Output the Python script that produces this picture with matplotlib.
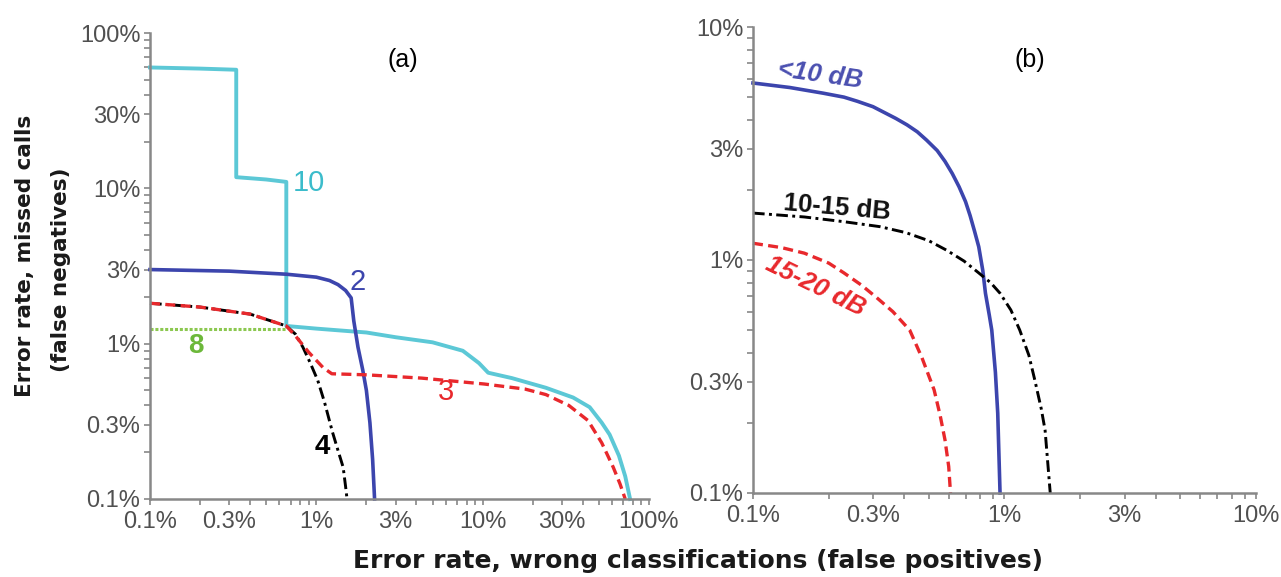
import matplotlib.pyplot as plt
from matplotlib.ticker import FixedLocator, FixedFormatter, LogLocator, NullFormatter

plt.rcParams['font.family'] = ['Liberation Sans', 'DejaVu Sans']

# values in percent, read off the reference
# panel (a)
c10_x = [0.1, 0.2, 0.33, 0.33, 0.5, 0.66, 0.66, 1.0, 2.0, 3.0, 5.0, 7.6, 9.5, 10.8, 15, 24, 35, 44, 52, 58, 66, 72, 77]
c10_y = [60, 59, 58, 11.8, 11.4, 11.0, 1.3, 1.25, 1.18, 1.1, 1.02, 0.9, 0.75, 0.65, 0.6, 0.52, 0.45, 0.39, 0.31, 0.26, 0.19, 0.14, 0.1]

c2_x = [0.1, 0.3, 0.66, 1.0, 1.2, 1.35, 1.5, 1.62, 1.68, 1.78, 1.9, 2.0, 2.1, 2.18, 2.24]
c2_y = [3.0, 2.93, 2.8, 2.68, 2.55, 2.4, 2.2, 1.97, 1.4, 0.95, 0.68, 0.5, 0.31, 0.18, 0.1]

c3_x = [0.1, 0.2, 0.4, 0.66, 0.75, 0.9, 1.1, 1.24, 2.0, 4.3, 10.2, 18, 24, 33, 43, 52, 61, 67, 72]
c3_y = [1.82, 1.72, 1.55, 1.3, 1.12, 0.88, 0.7, 0.64, 0.63, 0.6, 0.55, 0.51, 0.47, 0.4, 0.32, 0.23, 0.16, 0.125, 0.1]

c4_x = [0.1, 0.2, 0.4, 0.66, 0.75, 0.83, 0.92, 1.02, 1.12, 1.25, 1.36, 1.45, 1.5, 1.53]
c4_y = [1.82, 1.72, 1.55, 1.3, 1.15, 0.95, 0.75, 0.58, 0.42, 0.27, 0.2, 0.16, 0.12, 0.1]

c8_x = [0.1, 0.66]
c8_y = [1.25, 1.25]

# panel (b)
lo_x = [0.1, 0.14, 0.19, 0.23, 0.26, 0.3, 0.335, 0.37, 0.41, 0.45, 0.49, 0.54, 0.58, 0.62, 0.66, 0.7, 0.73, 0.76, 0.79, 0.82, 0.84, 0.87, 0.89, 0.92, 0.94, 0.96]
lo_y = [5.75, 5.5, 5.2, 5.0, 4.8, 4.55, 4.28, 4.05, 3.8, 3.55, 3.27, 2.95, 2.65, 2.35, 2.06, 1.78, 1.55, 1.33, 1.14, 0.9, 0.72, 0.58, 0.5, 0.33, 0.22, 0.1]

mid_x = [0.1, 0.16, 0.23, 0.32, 0.406, 0.5, 0.59, 0.69, 0.79, 0.88, 0.96, 1.06, 1.15, 1.25, 1.32, 1.4, 1.45, 1.52]
mid_y = [1.59, 1.53, 1.46, 1.39, 1.31, 1.21, 1.1, 0.99, 0.88, 0.8, 0.72, 0.61, 0.5, 0.39, 0.305, 0.23, 0.186, 0.1]

hi_x = [0.1, 0.13, 0.16, 0.2, 0.23, 0.27, 0.31, 0.36, 0.42, 0.47, 0.525, 0.555, 0.58, 0.6, 0.61]
hi_y = [1.18, 1.13, 1.07, 0.97, 0.88, 0.78, 0.69, 0.6, 0.5, 0.38, 0.277, 0.215, 0.169, 0.13, 0.1]

a_ticks = [0.1, 0.3, 1, 3, 10, 30, 100]
b_ticks = [0.1, 0.3, 1, 3, 10]

CYAN = '#5cc8d6'
BLUE = '#3c45ad'
RED = '#e8282c'
GREEN = '#8cc850'
AXC = '#888888'
TXT = '#505050'


def style(ax, ticks):
    ax.set_xscale('log')
    ax.set_yscale('log')
    ax.set_xlim(ticks[0], ticks[-1])
    ax.set_ylim(ticks[0], ticks[-1])
    labels = [f"{t:g}%" for t in ticks]
    for axis in (ax.xaxis, ax.yaxis):
        axis.set_major_locator(FixedLocator(ticks))
        axis.set_major_formatter(FixedFormatter(labels))
        axis.set_minor_locator(LogLocator(base=10, subs=range(2, 10)))
        axis.set_minor_formatter(NullFormatter())
    for s in ['top', 'right']:
        ax.spines[s].set_visible(False)
    for s in ['left', 'bottom']:
        ax.spines[s].set_color(AXC)
        ax.spines[s].set_linewidth(1.8)
    ax.tick_params(which='both', direction='out', length=4, width=1.2,
                   color=AXC, labelsize=17, labelcolor=TXT)
    ax.tick_params(axis='x', pad=5)
    ax.tick_params(axis='y', pad=3)


fig = plt.figure(figsize=(12.81, 5.77), dpi=100)
ax1 = fig.add_axes([0.1171, 0.1352, 0.3895, 0.8076])
ax2 = fig.add_axes([0.5878, 0.1456, 0.3927, 0.8076])

style(ax1, a_ticks)
style(ax2, b_ticks)

# panel (a)
ax1.plot(c8_x, c8_y, color=GREEN, lw=2.2, linestyle=(0, (1, 0.6)), clip_on=False)
ax1.plot(c10_x, c10_y, color=CYAN, lw=2.8, clip_on=False)
ax1.plot(c2_x, c2_y, color=BLUE, lw=2.6, clip_on=False)
ax1.plot(c4_x, c4_y, color='black', lw=2.1, linestyle=(0, (4, 1.5, 1, 1.5)), clip_on=False)
ax1.plot(c3_x, c3_y, color=RED, lw=2.4, linestyle=(0, (3, 1.6)), clip_on=False)

ax1.text(0.72, 10.8, "10", color='#3bbccb', fontsize=21, ha='left', va='center')
ax1.text(1.78, 2.5, "2", color=BLUE, fontsize=21, ha='center', va='center')
ax1.text(0.19, 0.97, "8", color='#6cb83a', fontsize=20, fontweight='bold', ha='center', va='center')
ax1.text(6.0, 0.49, "3", color=RED, fontsize=21, ha='center', va='center')
ax1.text(1.08, 0.215, "4", color='black', fontsize=20, fontweight='bold', ha='center', va='center')
ax1.text(3.3, 67, "(a)", color='black', fontsize=18, ha='center', va='center')

# panel (b)
ax2.plot(lo_x, lo_y, color=BLUE, lw=2.6, clip_on=False)
ax2.plot(mid_x, mid_y, color='black', lw=2.1, linestyle=(0, (4, 1.5, 1, 1.5)), clip_on=False)
ax2.plot(hi_x, hi_y, color=RED, lw=2.4, linestyle=(0, (3, 1.6)), clip_on=False)

ax2.text(0.185, 6.2, "<10 dB", color='#4a4fb0', fontsize=18.5, fontweight='bold', style='italic',
         rotation=-8, ha='center', va='center')
ax2.text(0.216, 1.67, "10-15 dB", color='#111111', fontsize=18.5, fontweight='bold',
         rotation=-5, ha='center', va='center')
ax2.text(0.177, 0.77, "15-20 dB", color=RED, fontsize=18.5, fontweight='bold', style='italic',
         rotation=-26, ha='center', va='center')
ax2.text(1.26, 7.2, "(b)", color='black', fontsize=18, ha='center', va='center')

# shared axis labels
fig.text(698 / 1281, 1 - 561 / 577, "Error rate, wrong classifications (false positives)",
         fontsize=18, fontweight='bold', family='DejaVu Sans', color='#1a1a1a',
         ha='center', va='center')
fig.text(25 / 1281, 1 - 256 / 577, "Error rate, missed calls",
         fontsize=15.5, fontweight='bold', family='DejaVu Sans', color='#1a1a1a',
         rotation=90, ha='center', va='center')
fig.text(61 / 1281, 1 - 270 / 577, "(false negatives)",
         fontsize=15.5, fontweight='bold', family='DejaVu Sans', color='#1a1a1a',
         rotation=90, ha='center', va='center')

fig.savefig("out.png", dpi=100)
